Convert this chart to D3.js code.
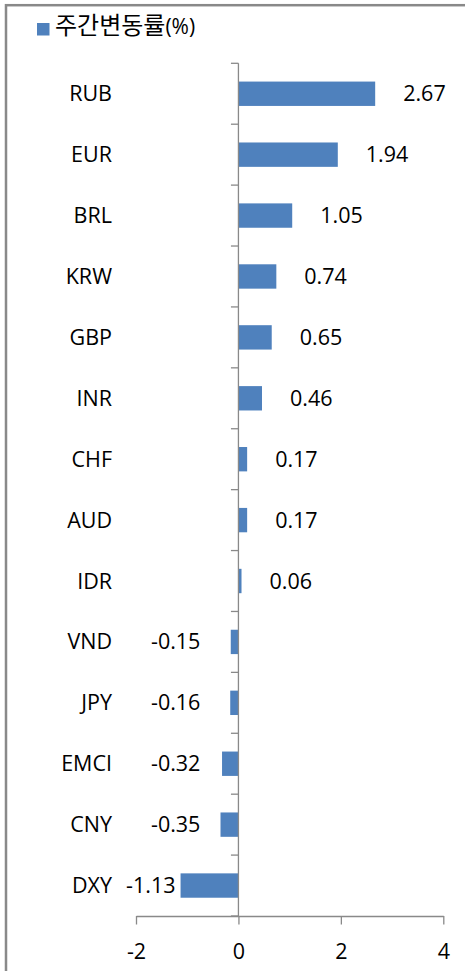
<!DOCTYPE html>
<html>
<head>
<meta charset="utf-8">
<script src="https://cdn.jsdelivr.net/npm/d3@7"></script>
<style>
html,body{margin:0;padding:0;background:#fff;}
svg{display:block;}
</style>
</head>
<body>
<svg id="chart" width="465" height="971"></svg>
<script>
// ---- data ----
const categories = ["RUB","EUR","BRL","KRW","GBP","INR","CHF","AUD","IDR","VND","JPY","EMCI","CNY","DXY"];
const values = [2.67, 1.94, 1.05, 0.74, 0.65, 0.46, 0.17, 0.17, 0.06, -0.15, -0.16, -0.32, -0.35, -1.13];
const xTicks = [-2, 0, 2, 4];
const legendLabel = "주간변동률";
const legendUnit = "(%)";

// ---- styles ----
const barColor = "#4F81BD";
const axisColor = "#898989";
const font = "'Open Sans', 'Noto Sans', sans-serif";
const fontSize = 21.5;
const hyphen = s => s.replace("\u2212", "-");

const svg = d3.select("#chart");

// outer border (top + left visible)
svg.append("rect")
  .attr("x", 6).attr("y", 5.2)
  .attr("width", 600).attr("height", 1100)
  .attr("fill", "none")
  .attr("stroke", axisColor)
  .attr("stroke-width", 2.5);

const x = d3.scaleLinear().domain([-2, 4]).range([136, 443.3]);
const y = d3.scaleBand().domain(categories).range([63.3, 916]);
const barH = y.bandwidth() * 0.4;

// bars
svg.append("g").selectAll("rect")
  .data(categories)
  .join("rect")
  .attr("x", (d, i) => x(Math.min(0, values[i])))
  .attr("y", d => y(d) + (y.bandwidth() - barH) / 2)
  .attr("width", (d, i) => Math.abs(x(values[i]) - x(0)))
  .attr("height", barH)
  .attr("fill", barColor);

// vertical category axis at zero
const x0 = x(0);
const gy = svg.append("g");
gy.append("line")
  .attr("x1", x0).attr("x2", x0)
  .attr("y1", y.range()[0]).attr("y2", y.range()[1])
  .attr("stroke", axisColor).attr("stroke-width", 1.3);
const bounds = categories.map(c => y(c)).concat([y.range()[1]]);
gy.selectAll("line.tk")
  .data(bounds)
  .join("line")
  .attr("class", "tk")
  .attr("x1", x0 - 7.5).attr("x2", x0)
  .attr("y1", d => d).attr("y2", d => d)
  .attr("stroke", axisColor).attr("stroke-width", 1.3);

// category labels
svg.append("g").selectAll("text")
  .data(categories)
  .join("text")
  .attr("x", 112)
  .attr("y", d => y(d) + y.bandwidth() / 2)
  .attr("dy", "0.35em")
  .attr("text-anchor", "end")
  .attr("font-family", font)
  .attr("font-size", fontSize)
  .attr("fill", "#000")
  .text(d => d);

// x axis
const gx = svg.append("g").attr("transform", `translate(0,${y.range()[1]})`)
  .call(d3.axisBottom(x).tickValues(xTicks).tickSize(8.5).tickSizeOuter(0)
    .tickFormat(d => hyphen(d3.format("d")(d))));
gx.select(".domain").attr("stroke", axisColor).attr("stroke-width", 1.3);
gx.selectAll(".tick line").attr("stroke", axisColor).attr("stroke-width", 1.3);
gx.selectAll(".tick text")
  .attr("y", 35.5)
  .attr("dy", "0.35em")
  .attr("font-family", font)
  .attr("font-size", fontSize)
  .attr("fill", "#000");

// value labels
svg.append("g").selectAll("text")
  .data(categories)
  .join("text")
  .attr("x", (d, i) => values[i] >= 0 ? x(values[i]) + 28 : Math.min(x(values[i]) - 5, x0 - 38))
  .attr("y", d => y(d) + y.bandwidth() / 2)
  .attr("dy", "0.35em")
  .attr("text-anchor", (d, i) => values[i] >= 0 ? "start" : "end")
  .attr("font-family", font)
  .attr("font-size", fontSize)
  .attr("fill", "#000")
  .text((d, i) => hyphen(d3.format(".2f")(values[i])));

// legend
svg.append("rect")
  .attr("x", 37).attr("y", 23)
  .attr("width", 12.5).attr("height", 12.5)
  .attr("fill", barColor);
const lt = svg.append("text")
  .attr("x", 55).attr("y", 28.5)
  .attr("dy", "0.35em")
  .attr("fill", "#000");
lt.append("tspan")
  .attr("font-family", "'Noto Sans CJK KR', sans-serif")
  .attr("font-size", 24)
  .text(legendLabel);
lt.append("tspan")
  .attr("font-family", font)
  .attr("font-size", 21)
  .text(legendUnit);
</script>
</body>
</html>
